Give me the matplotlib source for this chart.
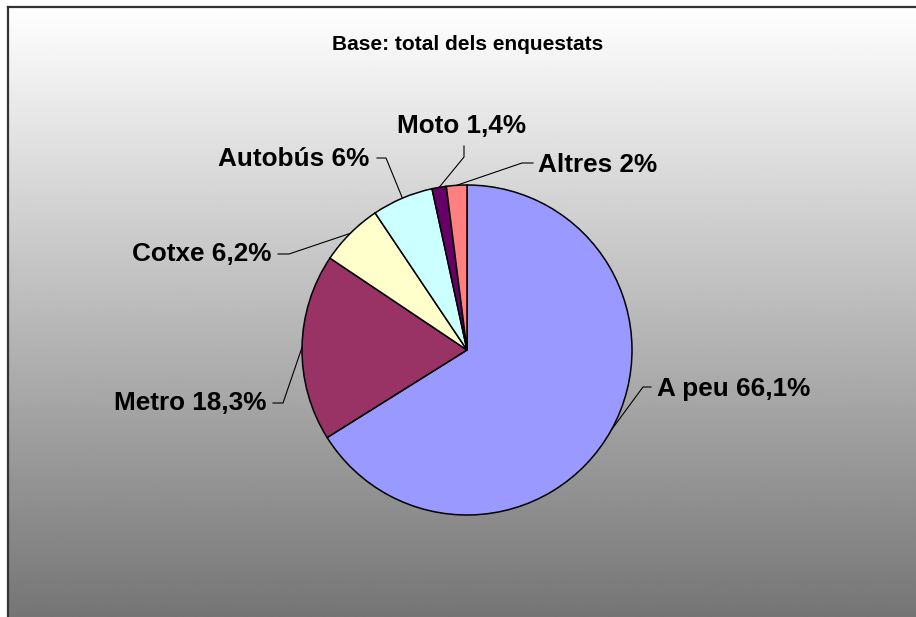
import numpy as np
import matplotlib.pyplot as plt

# data
labels = ['A peu', 'Metro', 'Cotxe', 'Autobús', 'Moto', 'Altres']
values = [66.1, 18.3, 6.2, 6, 1.4, 2]
value_text = ['66,1%', '18,3%', '6,2%', '6%', '1,4%', '2%']
colors = ['#9999FF', '#993366', '#FFFFCC', '#CCFFFF', '#660066', '#FF8080']

W, H, DPI = 916, 617, 100
cx, cy, R = 467, 350, 165  # pie centre / radius in pixels

fig = plt.figure(figsize=(W / DPI, H / DPI), dpi=DPI)
fig.patch.set_facecolor('white')

# gradient chart area with frame on top / left
bg = fig.add_axes([8 / W, 0, 1 - 8 / W, (H - 7) / H])
grad = np.linspace(1.0, 0.46, 256).reshape(-1, 1)
bg.imshow(grad, cmap='gray', vmin=0, vmax=1, aspect='auto', extent=[0, 1, 0, 1])
bg.set_xticks([])
bg.set_yticks([])
for side in ['right', 'bottom']:
    bg.spines[side].set_visible(False)
for side in ['left', 'top']:
    bg.spines[side].set_color('#333333')
    bg.spines[side].set_linewidth(1.6)

ax = fig.add_axes([0, 0, 1, 1])
ax.patch.set_alpha(0)
wedges, _ = ax.pie(values, colors=colors, startangle=90, counterclock=False,
                   radius=1, wedgeprops=dict(edgecolor='black', linewidth=1.1))
ax.set_aspect('auto')
ax.set_xlim(-cx / R, (W - cx) / R)
ax.set_ylim(-(H - cy) / R, cy / R)
ax.axis('off')

def px(x, y):
    return (x - cx) / R, (cy - y) / R

# label layout: text anchor (pixels), alignment, elbow point
layout = {
    'A peu':   dict(xy=(657, 389), ha='left',   elbow=[(651, 387), (643, 387)]),
    'Metro':   dict(xy=(266, 403), ha='right',  elbow=[(273, 403), (283, 403)]),
    'Cotxe':   dict(xy=(271, 254), ha='right',  elbow=[(278, 254), (289, 254)]),
    'Autobús': dict(xy=(369, 159), ha='right',  elbow=[(377, 158), (386, 158)]),
    'Moto':    dict(xy=(462, 126), ha='center', elbow=[(464, 146), (464, 157)]),
    'Altres':  dict(xy=(538, 165), ha='left',   elbow=[(533, 163), (522, 163)]),
}

for w, lab, vt in zip(wedges, labels, value_text):
    mid = np.deg2rad((w.theta1 + w.theta2) / 2)
    ex, ey = np.cos(mid), np.sin(mid)
    L = layout[lab]
    pts = [px(*p) for p in L['elbow']] + [(ex, ey)]
    ax.plot([p[0] for p in pts], [p[1] for p in pts], color='black', lw=0.8)
    tx, ty = px(*L['xy'])
    ax.text(tx, ty, f'{lab} {vt}', ha=L['ha'], va='center', fontsize=18.8,
            fontweight='bold', family='Liberation Sans')

fig.text(468 / W, 1 - 44 / H, 'Base: total dels enquestats', ha='center', va='center',
         fontsize=15, fontweight='bold', family='Liberation Sans')

fig.savefig('out.png', dpi=DPI)
